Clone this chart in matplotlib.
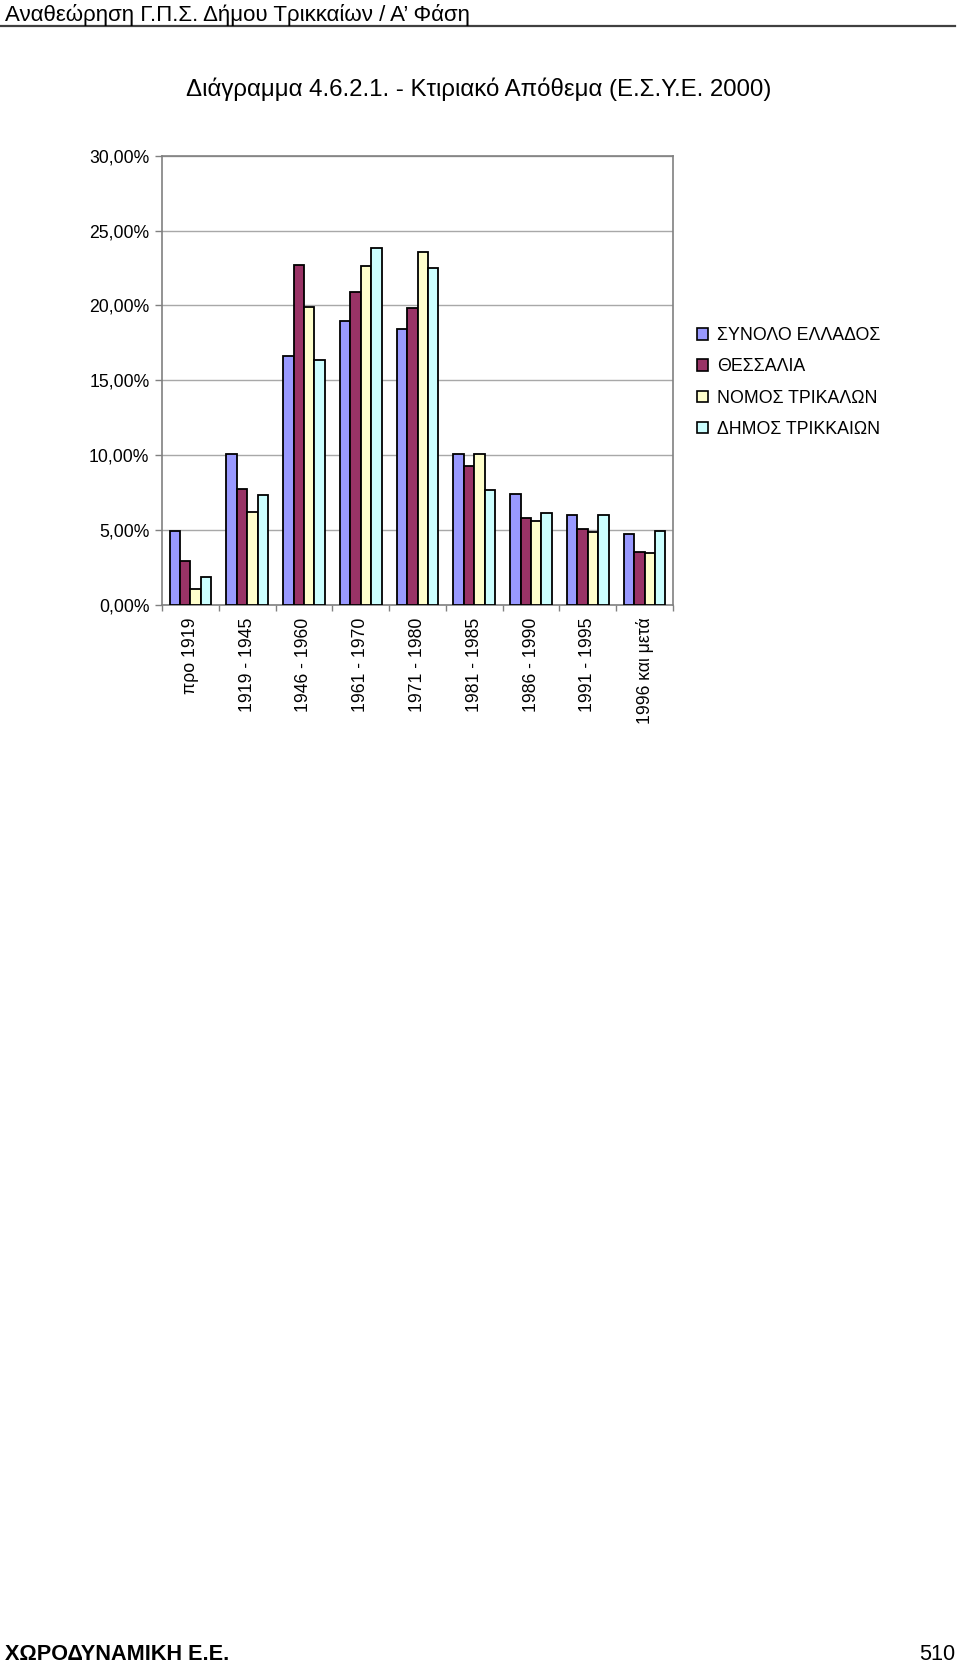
import matplotlib
matplotlib.use("Agg")
import matplotlib.pyplot as plt
import numpy as np
from matplotlib.patches import Patch
from matplotlib.lines import Line2D

plt.rcParams['font.family'] = ['Liberation Sans', 'DejaVu Sans']

categories = ["προ 1919", "1919 - 1945", "1946 - 1960", "1961 - 1970", "1971 - 1980",
              "1981 - 1985", "1986 - 1990", "1991 - 1995", "1996 και μετά"]
series_names = ["ΣΥΝΟΛΟ ΕΛΛΑΔΟΣ", "ΘΕΣΣΑΛΙΑ", "ΝΟΜΟΣ ΤΡΙΚΑΛΩΝ", "ΔΗΜΟΣ ΤΡΙΚΚΑΙΩΝ"]
synolo_ellados = [4.95, 10.10, 16.60, 18.97, 18.42, 10.10, 7.41, 6.02, 4.74]
thessalia = [2.94, 7.77, 22.73, 20.92, 19.83, 9.25, 5.82, 5.07, 3.54]
nomos_trikalon = [1.06, 6.24, 19.92, 22.62, 23.60, 10.10, 5.60, 4.85, 3.45]
dimos_trikkaion = [1.84, 7.33, 16.38, 23.82, 22.51, 7.66, 6.13, 6.02, 4.96]
yticks = [0, 5, 10, 15, 20, 25, 30]
ytick_labels = ["0,00%", "5,00%", "10,00%", "15,00%", "20,00%", "25,00%", "30,00%"]

colors = ["#9999FF", "#993366", "#FFFFCC", "#CCFFFF"]
series = [synolo_ellados, thessalia, nomos_trikalon, dimos_trikkaion]

W, H = 960, 1662
fig = plt.figure(figsize=(W / 100, H / 100), dpi=100)
fig.patch.set_facecolor("white")

ax = fig.add_axes([162 / W, 1 - 605 / H, (673 - 162) / W, (605 - 155.7) / H])
x = np.arange(len(categories))
bw = 0.183
for i, (vals, c) in enumerate(zip(series, colors)):
    ax.bar(x + (i - 1.5) * bw, vals, width=bw, color=c, edgecolor="black",
           linewidth=1.3, zorder=3, label=series_names[i])

ax.set_xlim(-0.5, len(categories) - 0.5)
ax.set_ylim(0, 30)
ax.set_yticks(yticks)
ax.set_yticklabels(ytick_labels, fontsize=12.7)
ax.set_xticks(x)
ax.set_xticklabels(categories, rotation=90, fontsize=12.7, va="top")
ax.set_xticks(np.arange(-0.5, len(categories), 1.0), minor=True)
ax.tick_params(axis="x", which="major", length=0, pad=9)
ax.tick_params(axis="x", which="minor", length=4, color="#808080", width=1)
ax.tick_params(axis="y", length=5, color="#808080", width=1, pad=4)
ax.yaxis.grid(True, color="#a8a8a8", linewidth=1, zorder=0)
ax.set_axisbelow(True)
for s in ax.spines.values():
    s.set_color("#808080")
    s.set_linewidth(1.2)

handles = [Patch(facecolor=c, edgecolor="black", linewidth=1.2) for c in colors]
fig.legend(handles, series_names, loc="upper left",
           bbox_to_anchor=(690 / W, 1 - 320 / H), frameon=False, fontsize=12.8,
           handlelength=0.62, handleheight=0.62, handletextpad=0.5,
           labelspacing=0.8, borderaxespad=0)

# header
fig.text(5 / W, 1 - 21 / H, "Αναθεώρηση Γ.Π.Σ. Δήμου Τρικκαίων / Α’ Φάση",
         fontsize=16, va="baseline", ha="left")
fig.add_artist(Line2D([0, 955 / W], [1 - 25.5 / H, 1 - 25.5 / H], color="#404040",
                      linewidth=1.6, transform=fig.transFigure))
fig.text(479 / W, 1 - 96 / H, "Διάγραμμα 4.6.2.1. - Κτιριακό Απόθεμα (Ε.Σ.Υ.Ε. 2000)",
         fontsize=17.3, va="baseline", ha="center")
# footer
fig.text(5 / W, 1 - 1660 / H, "ΧΩΡΟΔΥΝΑΜΙΚΗ Ε.Ε.", fontsize=15.6, fontweight="bold",
         va="baseline", ha="left")
fig.text(955 / W, 1 - 1660 / H, "510", fontsize=15.6, va="baseline", ha="right")

fig.savefig("out.png", dpi=100, facecolor="white")
